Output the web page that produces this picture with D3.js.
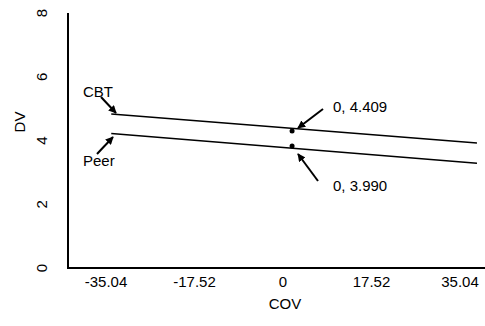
<!DOCTYPE html>
<html>
<head>
<meta charset="utf-8">
<script src="https://cdn.jsdelivr.net/npm/d3@7"></script>
<style>
  body { margin: 0; background: #fff; }
  text { font-family: "Liberation Sans", Arial, sans-serif; font-size: 15px; fill: #000; }
</style>
</head>
<body>
<div id="chart"></div>
<script>
// Chart size
const width = 485;
const height = 326;

// Data
const groups = ["CBT", "Peer"];
const covRange = [-34.0, 38.4];
const dvStart = [4.83, 4.22];
const dvEnd = [3.92, 3.29];
const pointCov = [1.8, 1.8];
const pointDv = [4.30, 3.83];
const pointLabels = ["0, 4.409", "0, 3.990"];
const xTicks = [-35.04, -17.52, 0, 17.52, 35.04];
const yTicks = [0, 2, 4, 6, 8];

const svg = d3.select("#chart")
  .append("svg")
  .attr("width", width)
  .attr("height", height);

// Scales
const x = d3.scaleLinear()
  .domain([-35.04, 35.04])
  .range([106, 460]);

const y = d3.scaleLinear()
  .domain([0, 8])
  .range([268, 13]);

// arrow head
svg.append("defs").append("marker")
  .attr("id", "head")
  .attr("viewBox", "0 0 10 10")
  .attr("refX", 9)
  .attr("refY", 5)
  .attr("markerWidth", 4)
  .attr("markerHeight", 4)
  .attr("orient", "auto")
  .append("path")
  .attr("d", "M0,0 L10,5 L0,10 z")
  .attr("fill", "#000");

// Axes lines
svg.append("line")
  .attr("x1", 68).attr("x2", 68)
  .attr("y1", y(8)).attr("y2", 269)
  .attr("stroke", "#000").attr("stroke-width", 2);
svg.append("line")
  .attr("x1", 67).attr("x2", width)
  .attr("y1", 268).attr("y2", 268)
  .attr("stroke", "#000").attr("stroke-width", 2);

// X tick labels
svg.selectAll(".xlab")
  .data(xTicks).enter()
  .append("text")
  .attr("class", "xlab")
  .attr("x", d => x(d))
  .attr("y", 287)
  .attr("text-anchor", "middle")
  .text(d => d === 0 ? "0" : d.toFixed(2));

// Y tick labels (rotated)
svg.selectAll(".ylab")
  .data(yTicks).enter()
  .append("text")
  .attr("class", "ylab")
  .attr("transform", d => "translate(47," + y(d) + ") rotate(-90)")
  .attr("text-anchor", "middle")
  .text(d => d);

// Axis titles
svg.append("text")
  .attr("x", x(0) + 2)
  .attr("y", 309)
  .attr("text-anchor", "middle")
  .text("COV");
svg.append("text")
  .attr("transform", "translate(25,122) rotate(-90)")
  .attr("text-anchor", "middle")
  .text("DV");

// Group lines
svg.selectAll(".gline")
  .data(groups).enter()
  .append("line")
  .attr("class", "gline")
  .attr("x1", x(covRange[0]))
  .attr("x2", x(covRange[1]))
  .attr("y1", (d, i) => y(dvStart[i]))
  .attr("y2", (d, i) => y(dvEnd[i]))
  .attr("stroke", "#000")
  .attr("stroke-width", 1.5);

// Points
svg.selectAll(".pt")
  .data(pointDv).enter()
  .append("circle")
  .attr("class", "pt")
  .attr("cx", (d, i) => x(pointCov[i]))
  .attr("cy", d => y(d))
  .attr("r", 2.5)
  .attr("fill", "#000");

// Group labels with arrows
const grpLabelPos = [[83, 97], [83, 166]];
const grpArrow = [[[101, 97], [116, 113]], [[97, 154], [113, 137]]];
svg.selectAll(".glab")
  .data(groups).enter()
  .append("text")
  .attr("class", "glab")
  .attr("x", (d, i) => grpLabelPos[i][0])
  .attr("y", (d, i) => grpLabelPos[i][1])
  .text(d => d);
svg.selectAll(".garrow")
  .data(grpArrow).enter()
  .append("line")
  .attr("class", "garrow")
  .attr("x1", d => d[0][0]).attr("y1", d => d[0][1])
  .attr("x2", d => d[1][0]).attr("y2", d => d[1][1])
  .attr("stroke", "#000").attr("stroke-width", 2)
  .attr("marker-end", "url(#head)");

// Point labels with arrows
const ptLabelPos = [[333, 112], [333, 191]];
const ptArrow = [[[323, 109], [298, 128]], [[318, 181], [298, 154]]];
svg.selectAll(".plab")
  .data(pointLabels).enter()
  .append("text")
  .attr("class", "plab")
  .attr("x", (d, i) => ptLabelPos[i][0])
  .attr("y", (d, i) => ptLabelPos[i][1])
  .text(d => d);
svg.selectAll(".parrow")
  .data(ptArrow).enter()
  .append("line")
  .attr("class", "parrow")
  .attr("x1", d => d[0][0]).attr("y1", d => d[0][1])
  .attr("x2", d => d[1][0]).attr("y2", d => d[1][1])
  .attr("stroke", "#000").attr("stroke-width", 2)
  .attr("marker-end", "url(#head)");
</script>
</body>
</html>
